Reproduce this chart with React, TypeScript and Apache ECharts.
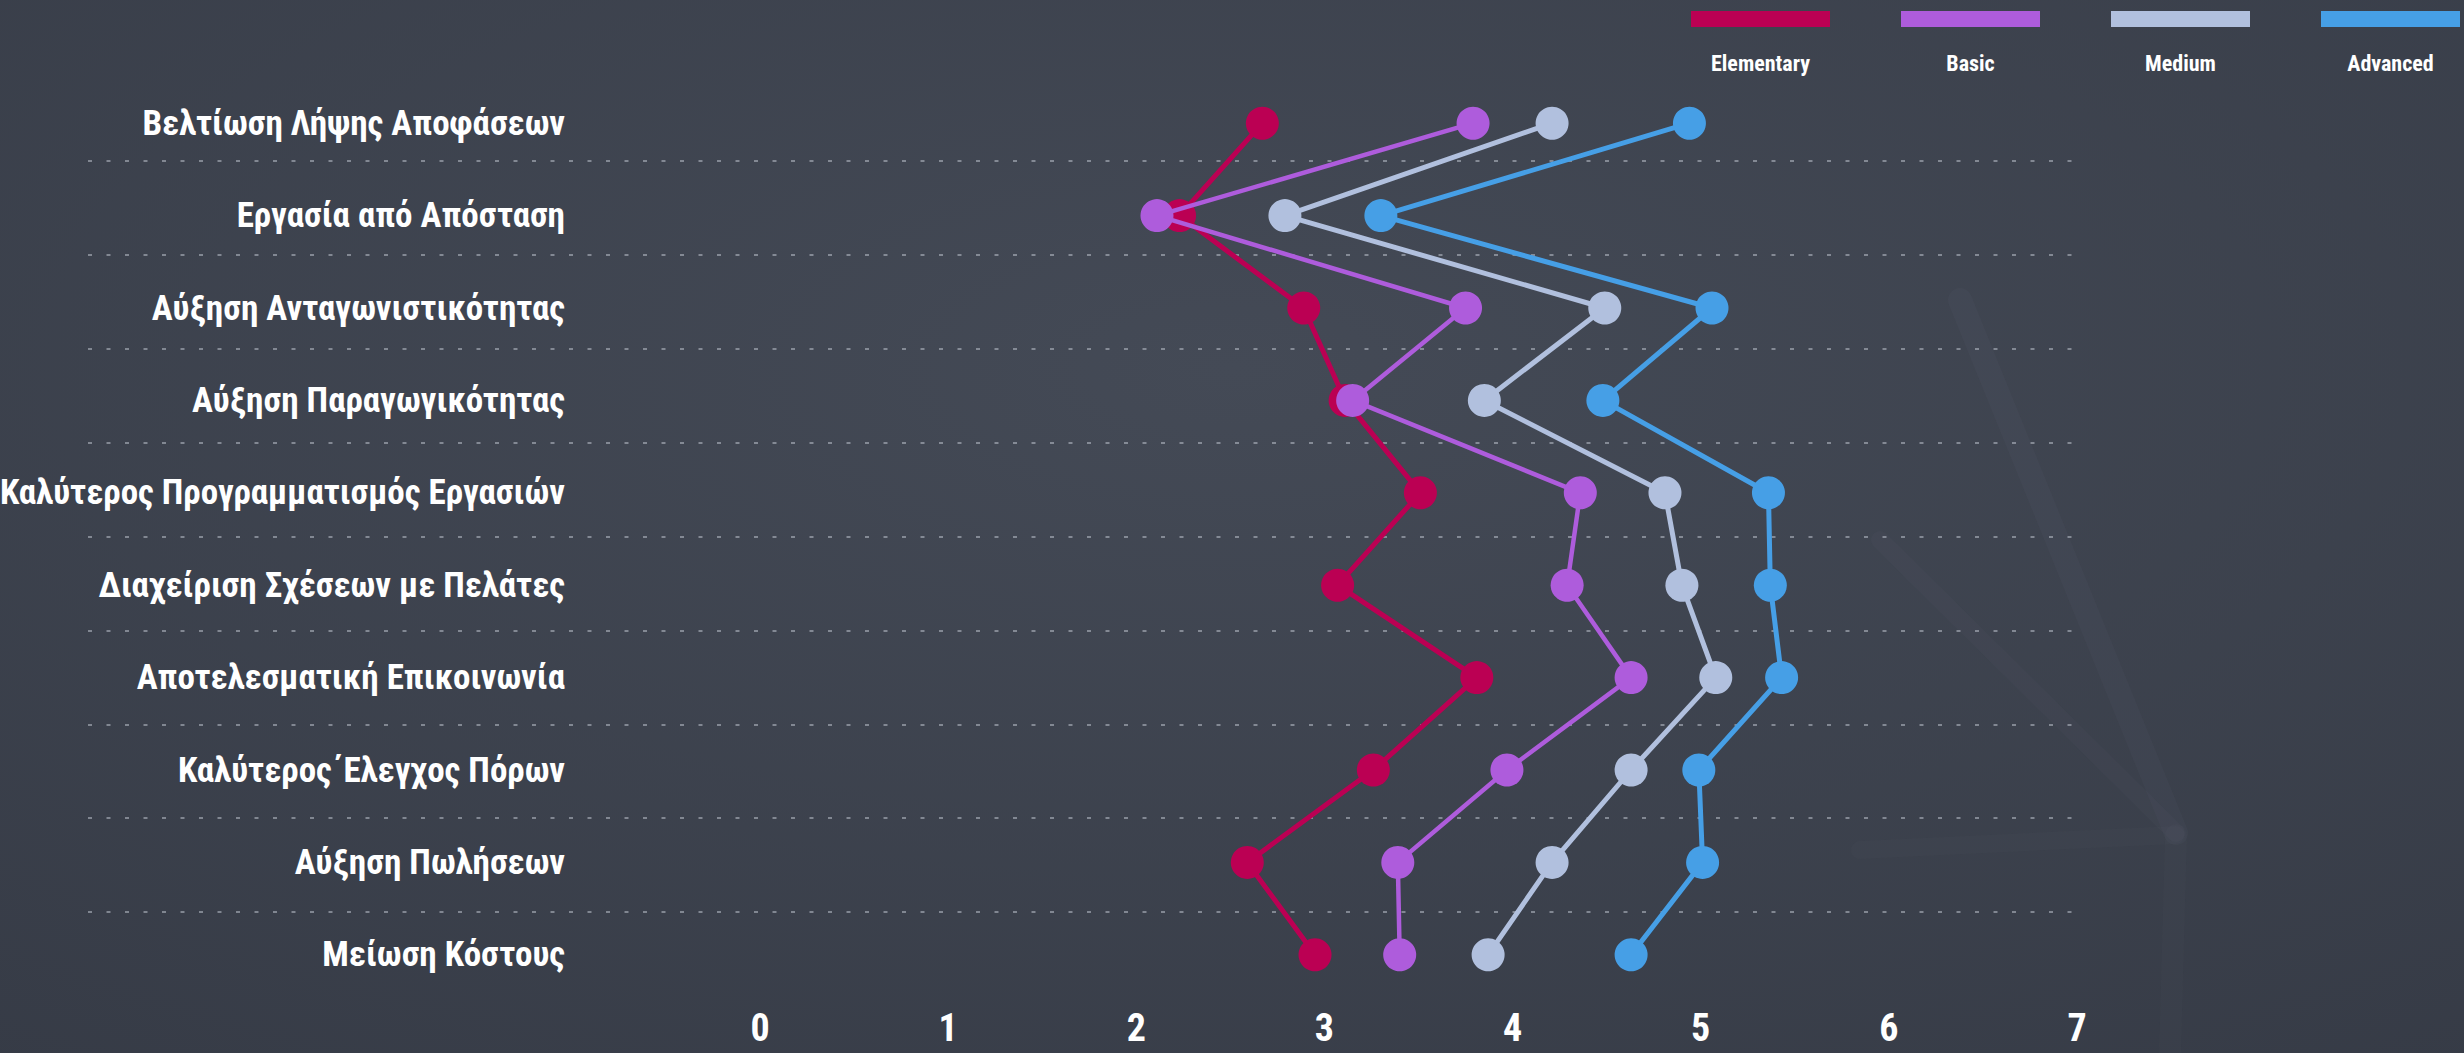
import React, { useEffect, useRef } from "react";
import * as echarts from "echarts";

const categories = [
  "Βελτίωση Λήψης Αποφάσεων",
  "Εργασία από Απόσταση",
  "Αύξηση Ανταγωνιστικότητας",
  "Αύξηση Παραγωγικότητας",
  "Καλύτερος Προγραμματισμός Εργασιών",
  "Διαχείριση Σχέσεων με Πελάτες",
  "Αποτελεσματική Επικοινωνία",
  "Καλύτερος΄Ελεγχος Πόρων",
  "Αύξηση Πωλήσεων",
  "Μείωση Κόστους",
];

const seriesNames = ["Elementary", "Basic", "Medium", "Advanced"];
const elementary = [2.67, 2.23, 2.89, 3.11, 3.51, 3.07, 3.81, 3.26, 2.59, 2.95];
const basic = [3.79, 2.11, 3.75, 3.15, 4.36, 4.29, 4.63, 3.97, 3.39, 3.4];
const medium = [4.21, 2.79, 4.49, 3.85, 4.81, 4.9, 5.08, 4.63, 4.21, 3.87];
const advanced = [4.94, 3.3, 5.06, 4.48, 5.36, 5.37, 5.43, 4.99, 5.01, 4.63];
const seriesValues = [elementary, basic, medium, advanced];
const colors = ["#bb0053", "#ae5cdc", "#b1c0de", "#469fe6"];

const xMin = 0;
const xMax = 7;
const xInterval = 1;
const gridLineMin = 1;
const gridLineMax = 9;

const FONT = "'Roboto Condensed', 'Open Sans', Roboto, sans-serif";

export default function App() {
  const ref = useRef<HTMLDivElement>(null);

  useEffect(() => {
    document.body.style.margin = "0";
    document.body.style.overflow = "hidden";
    const chart = echarts.init(ref.current!, null, { renderer: "svg" });

    const legendLefts = [1691, 1901, 2111, 2321];
    const legends = seriesNames.map((n, i) => ({
      data: [n],
      left: legendLefts[i],
      top: 11,
      padding: 0,
      icon: "rect",
      itemWidth: 139,
      itemHeight: 16,
      formatter: () => "",
      selectedMode: false,
      textStyle: { fontSize: 1 },
    }));

    const legendTexts = seriesNames.map((n, i) => ({
      type: "text",
      x: legendLefts[i] + 69.5,
      y: 63,
      z: 10,
      style: {
        text: n,
        fill: "#ffffff",
        fontSize: 22,
        fontWeight: "bold",
        fontFamily: FONT,
        textAlign: "center",
        textVerticalAlign: "middle",
      },
    }));

    const streak = (points: number[][], w: number, o: number) => ({
      type: "polyline",
      silent: true,
      z: -10,
      shape: { points },
      style: {
        stroke: `rgba(160,170,190,${o})`,
        lineWidth: w,
        fill: "none",
        lineCap: "round",
      },
    });

    chart.setOption({
      animation: false,
      backgroundColor: {
        type: "radial",
        x: 0.5,
        y: 0.35,
        r: 0.9,
        colorStops: [
          { offset: 0, color: "#444a56" },
          { offset: 1, color: "#353a45" },
        ],
      },
      legend: legends,
      graphic: [
        streak([[1960, 300], [2176, 833]], 24, 0.035),
        streak([[1880, 540], [2176, 833]], 18, 0.03),
        streak([[1860, 850], [2176, 835]], 18, 0.025),
        streak([[2176, 835], [2170, 1053]], 22, 0.025),
        ...legendTexts,
      ],
      grid: [
        { left: 760, right: 387, top: 77, height: 924, outerBoundsMode: "none" },
        { left: 88, right: 391, top: 161, bottom: 1053 - 912, outerBoundsMode: "none" },
      ],
      xAxis: [
        {
          type: "value",
          gridIndex: 0,
          min: xMin,
          max: xMax,
          interval: xInterval,
          axisLine: { show: false },
          axisTick: { show: false },
          splitLine: { show: false },
          axisLabel: {
            color: "#ffffff",
            fontSize: 38,
            fontWeight: "bold",
            fontFamily: FONT,
            margin: 8,
          },
        },
        {
          type: "value",
          gridIndex: 1,
          show: false,
          min: 0,
          max: 1,
        },
      ],
      yAxis: [
        {
          type: "category",
          gridIndex: 0,
          inverse: true,
          data: categories,
          axisLine: { show: false },
          axisTick: { show: false },
          splitLine: { show: false },
          axisLabel: {
            color: "#ffffff",
            fontSize: 35,
            fontWeight: "bold",
            fontFamily: FONT,
            margin: 195,
          },
        },
        {
          type: "value",
          gridIndex: 1,
          inverse: true,
          min: gridLineMin,
          max: gridLineMax,
          interval: 1,
          axisLine: { show: false },
          axisTick: { show: false },
          axisLabel: { show: false },
          splitLine: {
            show: true,
            lineStyle: {
              color: "rgba(200,205,215,0.5)",
              width: 2,
              type: [4, 14.5],
            },
          },
        },
      ],
      series: seriesNames.map((name, i) => ({
        name,
        type: "line",
        xAxisIndex: 0,
        yAxisIndex: 0,
        data: seriesValues[i],
        symbol: "circle",
        symbolSize: 33,
        itemStyle: { color: colors[i] },
        lineStyle: { color: colors[i], width: i === 1 ? 4.5 : 5 },
        z: 3 + i,
      })),
    });

    return () => chart.dispose();
  }, []);

  return <div ref={ref} style={{ width: 2464, height: 1053 }} />;
}
